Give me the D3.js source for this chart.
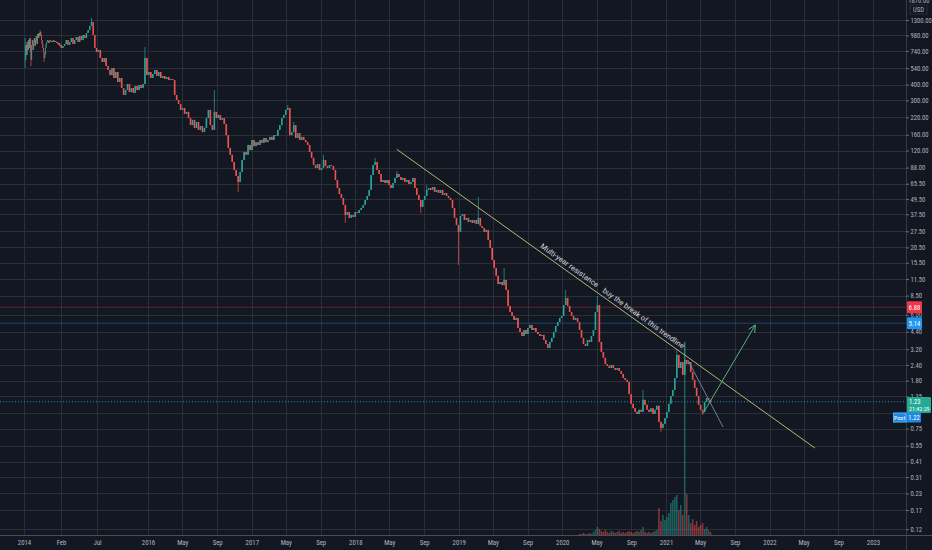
<!DOCTYPE html>
<html><head><meta charset="utf-8">
<script src="https://cdn.jsdelivr.net/npm/d3@7"></script>
<style>html,body{margin:0;padding:0;background:#131722;overflow:hidden}</style>
</head><body><svg id="c" width="932" height="550"></svg>
<script>
// ---------- DATA ----------
const startDate = "2014-01-13";           // first weekly bar
const closes = [
627,824,686,870,752,902,780,936,725,627,824,902,752,854,936,809,902,971,839,1007,936,1026,971,1044,989,902,839,780,725,650,686,780,839,870,902,886,854,870,902,886,870,886,870,902,886,870,886,870,854,870,839,824,854,809,824,780,809,
839,902,824,870,936,839,902,953,870,971,902,989,936,1026,1083,1165,1253,989,780,725,752,650,
604,650,562,522,476,541,451,503,419,451,376,331,362,404,349,376,343,390,362,397,376,404,650,476,503,451,
485,522,468,503,451,468,443,459,435,443,435,
331,302,281,252,261,234,243,217,191,210,181,202,175,188,168,181,
217,252,191,175,243,217,230,210,217,195,159,126,111,97.4,84.2,75.5,67.6,
81.2,101,117,111,133,121,145.5,130,140,133,145.5,138,151,140,145.5,154,145.5,159,157,175,191,217,230,252,261,
159,168,191,151,165,145.5,154,145.5,140,133,117,105,92.2,87.3,93.9,84.2,87.3,101,90.5,87.3,92.2,90.5,84.2,
70.1,60.6,54.3,50.5,44.5,37.0,39.1,35.1,37.0,35.7,39.1,38.4,40.6,42.1,44.5,48.7,52.4,58.5,
76.9,92.2,97.4,84.2,78.3,67.6,70.1,66.4,70.1,64.0,60.6,66.4,72.8,78.3,74.1,70.1,72.8,67.6,70.1,65.2,67.6,72.8,
60.6,53.4,48.7,42.9,48.7,52.4,58.5,60.6,58.5,61.7,56.4,58.5,55.3,58.5,53.4,55.3,52.4,50.5,48.7,42.1,35.1,30.9,27.2,
36.4,37.7,33.8,35.1,32.6,33.8,32.0,33.8,31.4,35.1,30.3,29.2,27.2,28.2,23.5,20.3,16.3,14.1,12.2,10.5,10.9,10.3,11.3,9.43,
7.04,6.31,5.87,5.45,5.66,4.71,4.38,4.07,4.54,4.22,4.71,4.98,4.54,4.71,4.38,4.22,4.07,4.15,3.79,3.52,3.27,3.65,3.93,4.38,4.89,5.26,5.66,5.87,
7.17,8.15,7.04,6.31,5.87,5.45,5.66,5.26,4.54,3.93,3.52,3.39,3.79,3.65,4.07,4.54,6.31,7.17,3.65,3.04,2.73,2.44,2.36,2.27,2.40,2.27,2.19,2.27,2.15,2.04,1.89,1.83,1.76,
1.41,1.18,1.09,1.02,0.98,1.06,1.02,1.27,1.16,1.06,1.02,1.09,0.98,1.06,1.14,0.85,0.76,0.82,0.91,1.02,1.18,1.36,1.52,1.89,2.88,2.27,2.53,2.00,2.63,2.44,2.53,2.11,1.83,1.58,1.36,1.16,1.06,1.02,1.22,1.31,1.27,1.23
];
// notable wicks (bar index, high, low; null = none)
const wickIdx  = [0,   9,   23,   29,  73,   101, 136, 148, 173, 176, 191, 202, 217, 228, 240, 243, 259, 269, 282, 313, 329, 352, 361,  369, 373, 382];
const wickHigh = [936, null,1083, null,1348, 794, 362, null,276, 202, 111, null,105, 82.7,null,64,  null,51.4,14.1,9.43,8.45,1.52,null, 3.15,3.65,null];
const wickLow  = [541, 560, null, 604, null, null,null,56.4,null,null,null,32.0,null,null,38.4,null,14.9,null,null,null,null,null,0.707,null,null,0.963];
// volume (first value belongs to bar volStart)
const volStart = 320;
const volumes = [1,1,2,1,1,2,1,
3,5,8,6,4,3,5,3,2,4,3,2,3,4,2,3,2,3,4,3,2,3,4,3,5,8,3,2,3,2,3,4,5,
27,14,20,15,18,22,32,35,38,40,25,30,20,193,41,20,12,16,10,14,8,10,12,6,8,5,3];

// price grid levels; the 1.00 label is hidden behind the price tags in the original
const priceTicks = [1300,980,740,540,400,300,220,160,120,88,65.5,49.5,37.5,27.5,20.5,15.5,11.5,8.5,6,4.4,3.2,2.4,1.8,1.35,1.0,0.75,0.55,0.41,0.31,0.23,0.17,0.12];
const hiddenTickLabels = [1.0];
const timeTicks = ["2014-01-01","2015-02-01","2015-07-01","2016-01-01","2016-05-01","2016-09-01","2017-01-01","2017-05-01","2017-09-01","2018-01-01","2018-05-01","2018-09-01","2019-01-01","2019-05-01","2019-09-01","2020-01-01","2020-05-01","2020-09-01","2021-01-01","2021-05-01","2021-09-01","2022-01-01","2022-05-01","2022-09-01","2023-01-01"];
const timeLabels = ["2014","Feb","Jul","2016","May","Sep","2017","May","Sep","2018","May","Sep","2019","May","Sep","2020","May","Sep","2021","May","Sep","2022","May","Sep","2023"];

const trendDates = ["2018-05-27","2022-06-10"], trendPrices = [122.9, 0.527];
const smallDates = ["2021-03-19","2021-07-21"], smallPrices = [2.63, 0.774];
const arrowDates = ["2021-05-12","2021-11-12"], arrowPrices = [0.993, 4.98];
const noteTexts = ["Multi-year resistance","buy the break of this trendline"];
const noteAt = [0.405, 0.582];   // fraction along the trendline
const lastPrice = 1.23, lastTimer = "21:42:29", postPrice = 1.22;
const levelPrices = [6.88, 5.14];
const levelColors = ["#f23645", "#2196f3"];

// ---------- LAYOUT ----------
const W = 932, H = 550, plotR = 906, plotB = 535;
const C = {bg:"#131722", grid:"#2a2e39", text:"#b2b5be", up:"#26a69a", down:"#ef5350"};
const font = "Roboto, 'Liberation Sans', sans-serif";
const nfont = "'Liberation Sans Narrow', 'Roboto Condensed', 'DejaVu Sans Condensed', sans-serif";
const svg = d3.select("#c").style("font-family", font);
svg.append("rect").attr("width",W).attr("height",H).attr("fill",C.bg);

const x = d3.scaleTime()
  .domain(["2014-01-01","2015-02-01","2015-07-01","2016-01-01","2023-01-01"].map(d=>new Date(d)))
  .range([24,61,97,148,873]);
const y = d3.scaleLog().domain([1300,0.12]).range([20,529.1]);
const yv = d3.scaleLinear().domain([0, d3.max(volumes)]).range([plotB, 342]);

const start = new Date(startDate);
const bars = closes.map((c,i)=>{
  const open = i ? closes[i-1] : c;
  const k = wickIdx.indexOf(i);
  let hi = Math.max(open,c), lo = Math.min(open,c);
  if (k>=0){ if (wickHigh[k]!=null) hi=Math.max(hi,wickHigh[k]); if (wickLow[k]!=null) lo=Math.min(lo,wickLow[k]); }
  const vi = i - volStart;
  return {date: d3.utcDay.offset(start, 7*i), open, close:c, high:hi, low:lo, vol: (vi>=0 && vi<volumes.length)? volumes[vi] : 0};
});
bars.forEach((b,i)=>{
  const nx = i<bars.length-1 ? x(bars[i+1].date) : x(d3.utcDay.offset(b.date,7));
  b.w = Math.max(0.7, (nx - x(b.date))*0.8);
});

svg.append("clipPath").attr("id","plot").append("rect").attr("width",plotR).attr("height",plotB);
const plot = svg.append("g").attr("clip-path","url(#plot)");

// grid
plot.selectAll(".vg").data(timeTicks).join("line")
  .attr("x1",d=>Math.round(x(new Date(d)))+0.5).attr("x2",d=>Math.round(x(new Date(d)))+0.5)
  .attr("y1",0).attr("y2",plotB).attr("stroke",C.grid);
plot.selectAll(".hg").data(priceTicks).join("line")
  .attr("y1",d=>Math.round(y(d))+0.5).attr("y2",d=>Math.round(y(d))+0.5)
  .attr("x1",0).attr("x2",plotR).attr("stroke",C.grid);

// level lines
plot.selectAll(".lvl").data(levelPrices).join("line")
  .attr("x1",0).attr("x2",plotR).attr("y1",d=>y(d)).attr("y2",d=>y(d))
  .attr("stroke",(d,i)=>levelColors[i]).attr("stroke-opacity",0.35);
plot.append("line").attr("x1",0).attr("x2",plotR).attr("y1",y(lastPrice)).attr("y2",y(lastPrice))
  .attr("stroke",C.up).attr("stroke-opacity",0.6).attr("stroke-dasharray","1,2");
plot.append("line").attr("x1",0).attr("x2",plotR).attr("y1",y(postPrice)).attr("y2",y(postPrice))
  .attr("stroke","#2196f3").attr("stroke-opacity",0.45).attr("stroke-dasharray","1,2");

// volume
const col = b => b.close >= b.open ? C.up : C.down;
plot.selectAll(".vol").data(bars.filter(b=>b.vol>0)).join("rect")
  .attr("x",b=>x(b.date)-b.w/2).attr("width",b=>b.w)
  .attr("y",b=>yv(b.vol)).attr("height",b=>plotB-yv(b.vol))
  .attr("fill",col).attr("fill-opacity",0.5);

// candles
const cg = plot.append("g");
cg.selectAll(".wick").data(bars).join("line")
  .attr("x1",b=>x(b.date)).attr("x2",b=>x(b.date))
  .attr("y1",b=>y(b.high)).attr("y2",b=>y(b.low))
  .attr("stroke",col).attr("stroke-width",0.7);
cg.selectAll(".body").data(bars).join("rect")
  .attr("x",b=>x(b.date)-b.w/2).attr("width",b=>b.w)
  .attr("y",b=>y(Math.max(b.open,b.close)))
  .attr("height",b=>Math.max(0.8, Math.abs(y(b.open)-y(b.close))))
  .attr("fill",col);

// drawings
const P = (d,p)=>[x(new Date(d)), y(p)];
const t0 = P(trendDates[0],trendPrices[0]), t1 = P(trendDates[1],trendPrices[1]);
plot.append("line").attr("x1",t0[0]).attr("y1",t0[1]).attr("x2",t1[0]).attr("y2",t1[1])
  .attr("stroke","#c4c779").attr("stroke-width",0.9);
const s0 = P(smallDates[0],smallPrices[0]), s1 = P(smallDates[1],smallPrices[1]);
plot.append("line").attr("x1",s0[0]).attr("y1",s0[1]).attr("x2",s1[0]).attr("y2",s1[1])
  .attr("stroke","#7d87ad").attr("stroke-width",0.9);
const a0 = P(arrowDates[0],arrowPrices[0]), a1 = P(arrowDates[1],arrowPrices[1]);
const ang = Math.atan2(a1[1]-a0[1], a1[0]-a0[0]);
const ah = [ang+Math.PI-0.45, ang+Math.PI+0.45].map(a=>[a1[0]+8*Math.cos(a), a1[1]+8*Math.sin(a)]);
const ag = plot.append("g").attr("stroke","#58b07e").attr("stroke-width",1).attr("fill","none");
ag.append("line").attr("x1",a0[0]).attr("y1",a0[1]).attr("x2",a1[0]).attr("y2",a1[1]);
ag.append("polyline").attr("points",[ah[0],a1,ah[1]].map(p=>p.join(",")).join(" "));

const tang = Math.atan2(t1[1]-t0[1], t1[0]-t0[0])*180/Math.PI;
plot.selectAll(".note").data(noteTexts).join("text")
  .attr("transform",(d,i)=>{const px=t0[0]+(t1[0]-t0[0])*noteAt[i], py=t0[1]+(t1[1]-t0[1])*noteAt[i];
     return `translate(${px},${py}) rotate(${tang})`;})
  .attr("dy",-3.5).attr("text-anchor","middle").attr("fill","#d1d4dc")
  .attr("font-size",7.5).text(d=>d);

// axes frame
svg.append("line").attr("x1",plotR+0.5).attr("x2",plotR+0.5).attr("y1",0).attr("y2",H).attr("stroke","#363a45");
svg.append("line").attr("x1",0).attr("x2",W).attr("y1",plotB+0.5).attr("y2",plotB+0.5).attr("stroke","#4a4e59");

// right axis
const fmt = d3.format(".2f");
const ra = svg.append("g").attr("transform",`translate(${plotR},0)`)
  .call(d3.axisRight(y).tickValues(priceTicks).tickFormat(d=>hiddenTickLabels.includes(d)?"":fmt(d)).tickSize(3).tickPadding(1.5));
ra.select(".domain").remove();
ra.selectAll("line").attr("stroke","#6b6f7a");
ra.selectAll("text").attr("fill",C.text).attr("font-size",6.6).attr("font-family",nfont);

// bottom axis
const ba = svg.append("g").attr("transform",`translate(0,${plotB})`)
  .call(d3.axisBottom(x).tickValues(timeTicks.map(d=>new Date(d))).tickFormat((d,i)=>timeLabels[i]).tickSize(0).tickPadding(5));
ba.select(".domain").remove();
ba.selectAll("text").attr("fill",C.text).attr("font-size",6.8).attr("font-family",nfont);

// top-right labels
svg.append("text").attr("x",919).attr("y",3).attr("text-anchor","middle").attr("fill",C.text).attr("font-size",6.6).attr("font-family",nfont).text("1870.00");
svg.append("rect").attr("x",910).attr("y",5).attr("width",17).attr("height",9).attr("fill",C.bg).attr("stroke","#363a45").attr("stroke-width",0.6);
svg.append("text").attr("x",918.5).attr("y",12).attr("text-anchor","middle").attr("fill",C.text).attr("font-size",6.6).attr("font-family",nfont).text("USD");

// price label boxes
const lb = svg.append("g").attr("font-size",6.6).attr("fill","#fff").attr("font-family",nfont);
levelPrices.forEach((p,i)=>{
  lb.append("rect").attr("x",plotR+1).attr("y",y(p)-6).attr("width",15).attr("height",12).attr("rx",1).attr("fill",levelColors[i]);
  lb.append("text").attr("x",plotR+8.5).attr("y",y(p)+2.5).attr("text-anchor","middle").text(p.toFixed(2));
});
const ly = y(lastPrice);
lb.append("rect").attr("x",plotR+1).attr("y",ly-4.5).attr("width",24).attr("height",16).attr("rx",1).attr("fill","#22ab94");
lb.append("text").attr("x",plotR+3).attr("y",ly+2.6).text(lastPrice.toFixed(2));
lb.append("text").attr("x",plotR+3).attr("y",ly+9.6).attr("font-size",6).text(lastTimer);
const py = y(postPrice) + 15.5;   // stacked below the last-price label
lb.append("rect").attr("x",893).attr("y",py-5).attr("width",28).attr("height",10).attr("rx",1).attr("fill","#1e88e5");
lb.append("rect").attr("x",893.5).attr("y",py-4.5).attr("width",12.5).attr("height",9).attr("fill","none").attr("stroke","#90caf9").attr("stroke-width",0.5);
lb.append("text").attr("x",899.7).attr("y",py+2.3).attr("text-anchor","middle").attr("font-size",6.2).text("Post");
lb.append("text").attr("x",914).attr("y",py+2.3).attr("text-anchor","middle").text(postPrice.toFixed(2));
</script></body></html>
